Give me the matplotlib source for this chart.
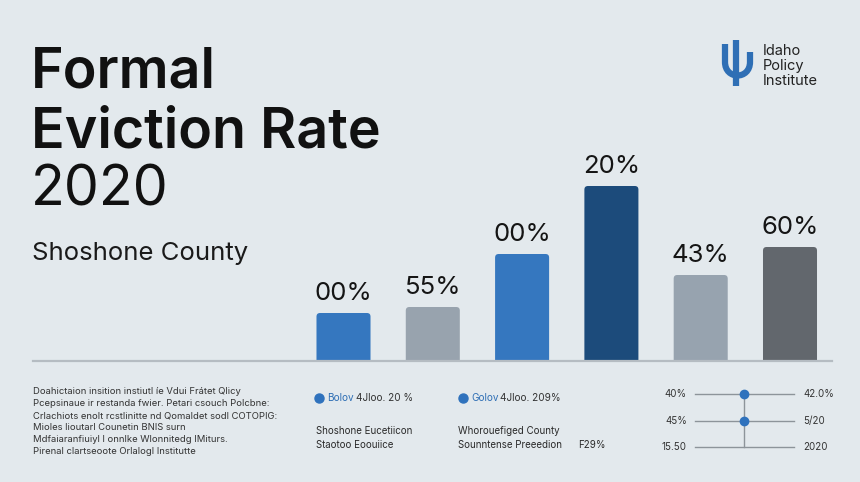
import matplotlib.pyplot as plt
from matplotlib.path import Path
from matplotlib.patches import PathPatch, FancyBboxPatch

plt.rcParams['font.family'] = ['Inter', 'DejaVu Sans']

# datos del grafico
valores = [4.8, 5.4, 10.7, 17.5, 8.6, 11.4]
etiquetas = ['00%', '55%', '00%', '20%', '43%', '60%']
colores = ['#3577bf', '#98a3ae', '#3577bf', '#1c4b7b', '#97a3af', '#62676d']

pie_texto = [
    'Doahictaion insition instiutl íe Vdui Frátet Qlicy',
    'Pcepsinaue ir restanda fwier. Petari csouch Polcbne:',
    'Crlachiots enolt rcstlinitte nd Qomaldet sodl COTOPIG:',
    'Mioles lioutarl Counetin BNIS surn',
    'Mdfaiaranfiuiyl l onnlke Wlonnitedg IMiturs.',
    'Pirenal clartseoote Orlalogl Institutte',
]
leyenda_nombres = ['Bolov', 'Golov']
leyenda_valores = ['4Jloo. 20 %', '4Jloo. 209%']
notas_1 = ['Shoshone Eucetiicon', 'Staotoo Eoouiice']
notas_2 = ['Whorouefiged County', 'Sounntense Preeedion']
mini_izq = ['40%', '45%', '15.50']
mini_der = ['42.0%', '5/20', '2020']
mini_puntos = [0, 1]

W, H = 860, 482
fondo = '#e3e9ed'
fig = plt.figure(figsize=(W / 100, H / 100), dpi=100, facecolor=fondo)

# capa de fondo en pixeles
capa = fig.add_axes([0, 0, 1, 1])
capa.set_xlim(0, W)
capa.set_ylim(H, 0)
capa.axis('off')

capa.text(31, 87, 'Formal', fontsize=40, fontweight='semibold', color='#111111')
capa.text(31, 147, 'Eviction Rate', fontsize=40, fontweight='semibold', color='#111111')
capa.text(31, 205, '2020', fontsize=40, color='#111111')
capa.text(32, 260, 'Shoshone County', fontsize=18.5, color='#1a1a1a')

# logo
logo = '#2f6fb5'
verts = [(725, 44), (725, 62), (725, 80), (750, 80), (750, 62), (750, 52)]
codes = [Path.MOVETO, Path.LINETO, Path.CURVE4, Path.CURVE4, Path.CURVE4, Path.LINETO]
capa.add_patch(PathPatch(Path(verts, codes), fill=False, edgecolor=logo,
                         lw=4.5, capstyle='butt'))
capa.plot([736, 736], [40, 86], color=logo, lw=4.5, solid_capstyle='butt')
for i, t in enumerate(['Idaho', 'Policy', 'Institute']):
    capa.text(763, 55 + i * 15, t, fontsize=10.5, color='#222222')

# grafico de barras
x0, x1, ybase, ytop = 33, 832, 361, 150
ax = fig.add_axes([x0 / W, 1 - ybase / H, (x1 - x0) / W, (ybase - ytop) / H])
paso = 89.3
ax.set_xlim((x0 - 343.5) / paso, (x1 - 343.5) / paso)
ax.set_ylim(0, (ybase - ytop) / 10)
ax.axis('off')

pos = list(range(len(valores)))
barras = ax.bar(pos, valores, width=0.605, color=colores)
for b, c in zip(barras, colores):
    b.set_visible(False)
    caja = FancyBboxPatch((b.get_x(), -1), b.get_width(), b.get_height() + 1,
                          boxstyle='round,pad=0,rounding_size=0.04',
                          mutation_aspect=paso / 10, facecolor=c, edgecolor='none')
    ax.add_patch(caja)
for p, v, e in zip(pos, valores, etiquetas):
    ax.annotate(e, (p, v), xytext=(0, 9.5), textcoords='offset points',
                ha='center', va='baseline', fontsize=18.5, color='#151515')
ax.axhline(0, color='#b5bcc2', lw=1.6, clip_on=False)

# texto al pie
for i, t in enumerate(pie_texto):
    capa.text(33, 392 + i * 12, t, fontsize=6.8, color='#333333', va='center')

for xd, n, v in zip([319, 463], leyenda_nombres, leyenda_valores):
    capa.plot(xd, 398, 'o', ms=6.5, color='#2f72bd')
    capa.text(xd + 8, 398, n, fontsize=7.2, color='#2f6fb5', va='center')
    capa.text(xd + 37, 398, v, fontsize=7.2, color='#333333', va='center')

for i, t in enumerate(notas_1):
    capa.text(316, 431 + i * 14, t, fontsize=7, color='#2a2a2a', va='center')
for i, t in enumerate(notas_2):
    capa.text(458, 431 + i * 14, t, fontsize=7, color='#2a2a2a', va='center')
capa.text(578, 445, 'F29%', fontsize=7, color='#2a2a2a', va='center')

# mini diagrama
filas = [394, 421, 447]
for y, a, b in zip(filas, mini_izq, mini_der):
    capa.plot([695, 794], [y, y], color='#8d949a', lw=1)
    capa.text(687, y, a, fontsize=7, color='#333333', ha='right', va='center')
    capa.text(803, y, b, fontsize=7, color='#333333', ha='left', va='center')
capa.plot([744, 744], [filas[0], filas[-1]], color='#8d949a', lw=1)
for k in mini_puntos:
    capa.plot(744, filas[k], 'o', ms=6, color='#2f72bd')

fig.savefig('out.png', dpi=100, facecolor=fondo)
